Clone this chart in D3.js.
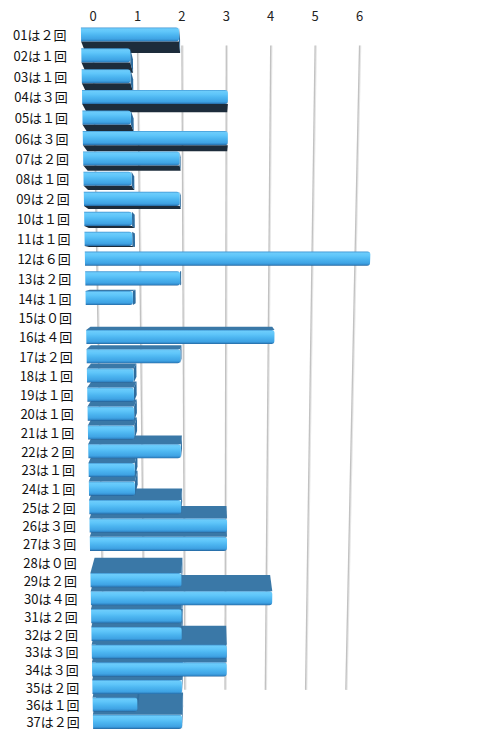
<!DOCTYPE html>
<html>
<head>
<meta charset="utf-8">
<script src="https://cdn.jsdelivr.net/npm/d3@7"></script>
<style>
  html, body { margin: 0; background: #fff; }
  svg { display: block; }
</style>
</head>
<body>
<div id="chart"></div>
<script>
// counts per number
const categories = ['01','02','03','04','05','06','07','08','09','10','11','12','13','14','15','16','17','18','19',
  '20','21','22','23','24','25','26','27','28','29','30','31','32','33','34','35','36','37'];
const counts = [2,1,1,3,1,3,2,1,2,1,1,6,2,1,0,4,2,1,1,1,1,2,1,1,2,3,3,0,2,4,2,2,3,3,2,1,2];
const ticks = [0, 1, 2, 3, 4, 5, 6];

const W = 487, H = 742;
const font = '"Noto Sans CJK JP", "Noto Sans", sans-serif';

// flat chart plane (as seen at the top row), then tilted in perspective
const x = d3.scaleLinear().domain([0, 6]).range([81, 375]);
const row = d3.scalePoint().domain(categories).range([34.5, 34.5 + 36 * 21.1]);
const step = row.step();
const barH = 14.2;
const labelX = 66.5;

const tilt = 0.1 / (36 * step);   // bottom of the plane is ~10% further away
const vx = 213;
const depthOf = Y => 1 + tilt * (Y - row.range()[0]);
function project(X, Y) {
  const w = depthOf(Y);
  return [vx + (X - vx) / w, Y / w];
}

// depth: move a front point toward the vanishing point
const vp = [210, 268];
const barDepth = [0.035, 0.05];
const wallDepth = [0.095, 0.088];
function push(p, [kx, ky]) {
  return [p[0] + kx * (vp[0] - p[0]), p[1] + ky * (vp[1] - p[1])];
}

const svg = d3.select('#chart').append('svg')
  .attr('width', W).attr('height', H)
  .attr('viewBox', `0 0 ${W} ${H}`);

svg.append('rect').attr('width', W).attr('height', H).attr('fill', '#fff');

const defs = svg.append('defs');
const grad = defs.append('linearGradient')
  .attr('id', 'front-grad')
  .attr('x1', 0).attr('y1', 0).attr('x2', 0).attr('y2', 1);
[
  [0, '#3f95d2'], [0.1, '#6cccfb'], [0.3, '#5fc6fa'], [0.55, '#4cb5f0'],
  [0.82, '#3fa3e4'], [0.93, '#3188c8'], [1, '#23629a']
].forEach(([o, c]) => grad.append('stop').attr('offset', o).attr('stop-color', c));

// back wall grid
const Ytop = row(categories[0]) - step / 2;
const Ybot = row(categories[categories.length - 1]) + step / 2;
const grid = svg.append('g');
ticks.forEach(t => {
  const a = push(project(x(t), Ytop), wallDepth);
  const b = push(project(x(t), Ybot), wallDepth);
  grid.append('line')
    .attr('x1', a[0] + 1).attr('y1', a[1]).attr('x2', b[0] + 1).attr('y2', b[1])
    .attr('stroke', '#e6e6e6').attr('stroke-width', 1.5);
  grid.append('line')
    .attr('x1', a[0]).attr('y1', a[1]).attr('x2', b[0]).attr('y2', b[1])
    .attr('stroke', '#c2c2c2').attr('stroke-width', 1.3);
  svg.append('text')
    .attr('x', a[0]).attr('y', a[1] - 30)
    .attr('text-anchor', 'middle')
    .attr('dominant-baseline', 'central')
    .attr('fill', '#222')
    .attr('font-size', '13px')
    .attr('font-family', font)
    .text(t);
});

// bar geometry (the bevelled front looks a bit taller further down)
const bars = categories.map((c, i) => {
  const Y = row(c);
  const w = depthOf(Y);
  const hh = barH * w * w / 2;
  const y0 = Y - hh, y1 = Y + hh;
  const x0 = x(0), x1 = x(counts[i]);
  const f = {
    tl: project(x0, y0), tr: project(x1, y0),
    br: project(x1, y1), bl: project(x0, y1)
  };
  const b = {
    tl: push(f.tl, barDepth), tr: push(f.tr, barDepth),
    br: push(f.br, barDepth), bl: push(f.bl, barDepth)
  };
  return { cat: c, n: counts[i], Y, f, b, cy: project(x0, Y)[1] };
}).filter(d => d.n > 0);

const poly = pts => 'M' + pts.map(p => p.join(',')).join('L') + 'Z';

// side faces, outer rows first
const sides = svg.append('g');
bars.slice()
  .sort((a, b) => Math.abs(b.cy - vp[1]) - Math.abs(a.cy - vp[1]))
  .forEach(d => {
    const { f, b } = d;
    if (b.bl[1] > f.bl[1]) {
      sides.append('path')
        .attr('d', poly([f.bl, f.br, b.br, b.bl]))
        .attr('fill', '#1d2c3b');
    }
    if (b.tl[1] < f.tl[1]) {
      sides.append('path')
        .attr('d', poly([f.tl, f.tr, b.tr, b.tl]))
        .attr('fill', '#3a78a7');
    }
    if (b.tr[0] > f.tr[0]) {
      sides.append('path')
        .attr('d', poly([f.tr, b.tr, b.br, f.br]))
        .attr('fill', '#2e6d9f');
    }
  });

// front faces with a rounded right end
const r = 3;
const fronts = svg.append('g');
bars.forEach(d => {
  const { tl, tr, br, bl } = d.f;
  const path = d3.path();
  path.moveTo(tl[0], tl[1]);
  path.lineTo(tr[0] - r, tr[1]);
  path.quadraticCurveTo(tr[0], tr[1], tr[0], tr[1] + r);
  path.lineTo(br[0], br[1] - r);
  path.quadraticCurveTo(br[0], br[1], br[0] - r, br[1]);
  path.lineTo(bl[0], bl[1]);
  path.closePath();
  fronts.append('path')
    .attr('d', path.toString())
    .attr('fill', 'url(#front-grad)');
});

// category labels
const fullWidth = n => String(n).split('').map(ch => String.fromCharCode(0xFF10 + +ch)).join('');
categories.forEach((c, i) => {
  const p = project(labelX, row(c));
  svg.append('text')
    .attr('x', p[0]).attr('y', p[1])
    .attr('text-anchor', 'end')
    .attr('dominant-baseline', 'central')
    .attr('fill', '#111')
    .attr('font-size', '13px')
    .attr('font-family', font)
    .text(`${c}は${fullWidth(counts[i])}回`);
});
</script>
</body>
</html>
